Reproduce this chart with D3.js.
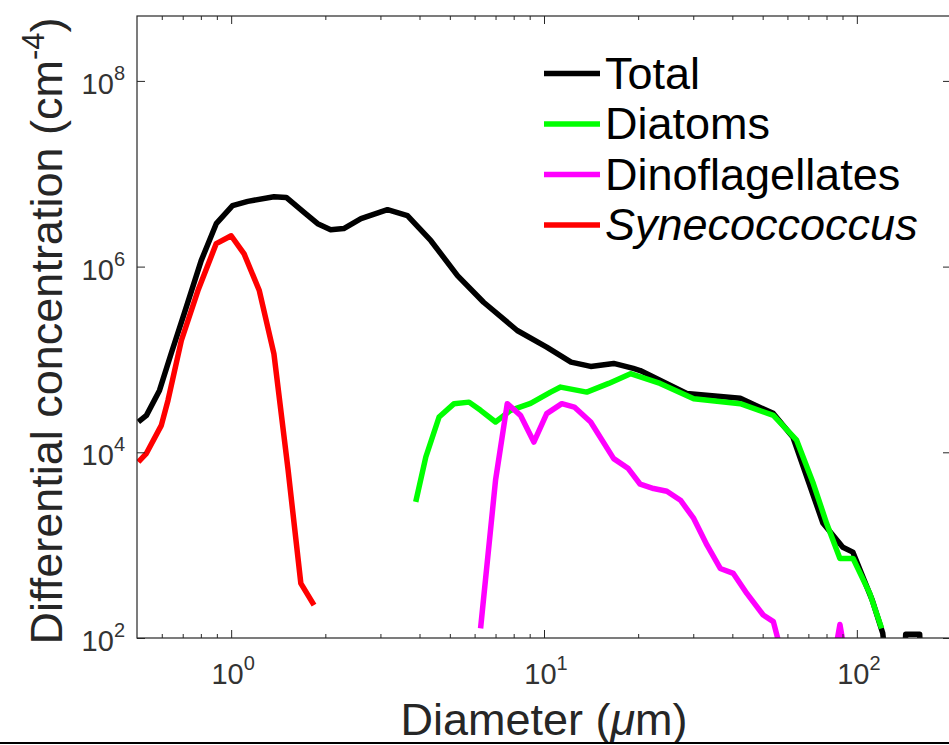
<!DOCTYPE html>
<html>
<head>
<meta charset="utf-8">
<script src="https://cdn.jsdelivr.net/npm/d3@7"></script>
<style>
  body { margin: 0; background: #fff; }
  svg { display: block; font-family: 'Liberation Sans', Arial, sans-serif; }
</style>
</head>
<body>
<script>
// diameters (um) and differential concentrations (cm^-4)
const totalD = [0.505, 0.536, 0.59, 0.643, 0.708, 0.802, 0.896, 1.01, 1.13, 1.37, 1.5, 1.71, 1.89, 2.08, 2.29, 2.6, 3.16, 3.66, 4.35, 5.29, 6.41, 8.21, 10.2, 12.2, 14.1, 16.7, 19.3, 20.3, 28.6, 42.4, 54, 62.5, 77.9, 90.2, 97.1, 112, 121, 128, 140, 143.3, 158.8, 162, 175]
const totalC = [2.12e4, 2.5e4, 4.64e4, 1.16e5, 3.13e5, 1.16e6, 2.9e6, 4.53e6, 5.04e6, 5.66e6, 5.56e6, 3.84e6, 2.9e6, 2.5e6, 2.57e6, 3.28e6, 4.1e6, 3.53e6, 1.9e6, 8.0e5, 4.13e5, 2.05e5, 1.36e5, 9.35e4, 8.41e4, 9.06e4, 8.0e4, 7.6e4, 4.31e4, 3.81e4, 2.63e4, 1.45e4, 1.73e3, 951, 841, 256, 113, 20, 20, 110, 110, 20, 20]

const diatomD = [3.89, 4.19, 4.62, 5.16, 5.76, 6.27, 7.0, 7.82, 9.06, 10.5, 11.3, 13.7, 16.1, 18.9, 23.5, 30.1, 42.4, 54.1, 64.2, 72.6, 80.1, 88.3, 97.3, 110, 120]
const diatomC = [2.92e3, 8.9e3, 2.4e4, 3.34e4, 3.47e4, 2.83e4, 2.12e4, 2.83e4, 3.37e4, 4.45e4, 5.04e4, 4.45e4, 5.52e4, 7.02e4, 5.52e4, 3.78e4, 3.34e4, 2.5e4, 1.35e4, 4.61e3, 1.71e3, 719, 719, 302, 127]

const dinoD = [6.27, 7.0, 7.63, 8.41, 9.28, 10.2, 11.4, 12.5, 14.1, 16.7, 18.6, 20.3, 22.4, 24.7, 27.3, 30.1, 33.2, 36.6, 40.3, 44.5, 50.2, 54.1, 56.8, 84.5, 88.3, 92.2]
const dinoC = [127, 5.0e3, 3.34e4, 2.5e4, 1.29e4, 2.61e4, 3.34e4, 3.07e4, 2.12e4, 8.55e3, 6.68e3, 4.53e3, 4.07e3, 3.81e3, 3.05e3, 1.94e3, 1000, 561, 496, 302, 177, 150, 80, 60, 140, 60]

const synD = [0.505, 0.536, 0.598, 0.628, 0.693, 0.783, 0.896, 1.0, 1.1, 1.23, 1.37, 1.52, 1.67, 1.84]
const synC = [7.87e3, 9.75e3, 1.95e4, 3.62e4, 1.6e5, 5.52e5, 1.77e6, 2.15e6, 1.37e6, 5.52e5, 1.15e5, 6.5e3, 387, 226]

const seriesNames = ['Total', 'Diatoms', 'Dinoflagellates', 'Synecoccoccus']
const seriesColors = ['#000000', '#00ff00', '#ff00ff', '#ff0000']

const xMajor = [1, 10, 100]
const xMinor = [0.6, 0.7, 0.8, 0.9, 2, 3, 4, 5, 6, 7, 8, 9, 20, 30, 40, 50, 60, 70, 80, 90]
const xTickExp = ['0', '1', '2']
const yMajor = [1e2, 1e4, 1e6, 1e8]
const yTickExp = ['2', '4', '6', '8']

const w = 949
const h = 745
const plotLeft = 137
const plotRight = 951
const plotTop = 16
const plotBottom = 638
const ink = '#262626'

const svg = d3.select('body')
    .append('svg')
    .attr('width', w)
    .attr('height', h)

const xScale = d3.scaleLog().domain([0.5, 200]).range([plotLeft, plotRight])
const yScale = d3.scaleLog().domain([1e2, 5e8]).range([plotBottom, plotTop])

svg.append('clipPath')
    .attr('id', 'plot')
    .append('rect')
    .attr('x', plotLeft)
    .attr('y', plotTop)
    .attr('width', plotRight - plotLeft)
    .attr('height', plotBottom - plotTop)

// curves, drawn in legend order so later ones sit on top
const series = [
    totalD.map((d, i) => [d, totalC[i]]),
    diatomD.map((d, i) => [d, diatomC[i]]),
    dinoD.map((d, i) => [d, dinoC[i]]),
    synD.map((d, i) => [d, synC[i]])
]

const line = d3.line()
    .x(d => xScale(d[0]))
    .y(d => yScale(d[1]))

svg.append('g')
    .attr('clip-path', 'url(#plot)')
    .selectAll('path')
    .data(series)
    .enter()
    .append('path')
    .attr('d', line)
    .attr('fill', 'none')
    .attr('stroke', (d, i) => seriesColors[i])
    .attr('stroke-width', 5.5)
    .attr('stroke-linejoin', 'round')

// box and ticks (inward, on all four sides)
const axisStyle = g => {
    g.select('.domain').remove()
    g.selectAll('line').attr('stroke', ink)
    g.selectAll('text').remove()
}

svg.append('g').attr('transform', `translate(0,${plotBottom})`)
    .call(d3.axisBottom(xScale).tickValues(xMajor).tickSize(-8)).call(axisStyle)
svg.append('g').attr('transform', `translate(0,${plotBottom})`)
    .call(d3.axisBottom(xScale).tickValues(xMinor).tickSize(-4)).call(axisStyle)
svg.append('g').attr('transform', `translate(0,${plotTop})`)
    .call(d3.axisTop(xScale).tickValues(xMajor).tickSize(-8)).call(axisStyle)
svg.append('g').attr('transform', `translate(0,${plotTop})`)
    .call(d3.axisTop(xScale).tickValues(xMinor).tickSize(-4)).call(axisStyle)
svg.append('g').attr('transform', `translate(${plotLeft},0)`)
    .call(d3.axisLeft(yScale).tickValues(yMajor).tickSize(-8)).call(axisStyle)
svg.append('g').attr('transform', `translate(${plotRight},0)`)
    .call(d3.axisRight(yScale).tickValues(yMajor).tickSize(-8)).call(axisStyle)

svg.append('rect')
    .attr('x', plotLeft)
    .attr('y', plotTop)
    .attr('width', plotRight - plotLeft)
    .attr('height', plotBottom - plotTop)
    .attr('fill', 'none')
    .attr('stroke', ink)
    .attr('stroke-width', 1.2)

// tick labels 10^n
const xLab = svg.selectAll('.xlab')
    .data(xMajor)
    .enter()
    .append('text')
    .attr('class', 'xlab')
    .attr('x', d => xScale(d) + 2)
    .attr('y', plotBottom + 46)
    .attr('text-anchor', 'middle')
    .attr('fill', '#333')
    .style('font-size', '29px')
xLab.append('tspan').text('10')
xLab.append('tspan').attr('dy', -14).style('font-size', '20px').text((d, i) => xTickExp[i])

const yLab = svg.selectAll('.ylab')
    .data(yMajor)
    .enter()
    .append('text')
    .attr('class', 'ylab')
    .attr('x', plotLeft - 12)
    .attr('y', d => yScale(d) + 13)
    .attr('text-anchor', 'end')
    .attr('fill', '#333')
    .style('font-size', '29px')
yLab.append('tspan').text('10')
yLab.append('tspan').attr('dy', -14).style('font-size', '20px').text((d, i) => yTickExp[i])

// axis titles
const xTitle = svg.append('text')
    .attr('x', (plotLeft + plotRight) / 2)
    .attr('y', 735)
    .attr('text-anchor', 'middle')
    .attr('fill', ink)
    .style('font-size', '45px')
xTitle.append('tspan').text('Diameter (')
xTitle.append('tspan').style('font-style', 'italic').text('\u03bc')
xTitle.append('tspan').text('m)')

const yTitle = svg.append('text')
    .attr('transform', `translate(62,${(plotTop + plotBottom) / 2 + 4}) rotate(-90)`)
    .attr('text-anchor', 'middle')
    .attr('fill', ink)
    .style('font-size', '45px')
yTitle.append('tspan').text('Differential concentration (cm')
yTitle.append('tspan').attr('dy', -18).style('font-size', '31px').text('-4')
yTitle.append('tspan').attr('dy', 18).text(')')

// legend
const legend = svg.selectAll('.leg')
    .data(seriesNames)
    .enter()
    .append('g')
    .attr('class', 'leg')
    .attr('transform', (d, i) => `translate(544,${73.5 + i * 50.5})`)

legend.append('line')
    .attr('x1', 0)
    .attr('x2', 56)
    .attr('stroke', (d, i) => seriesColors[i])
    .attr('stroke-width', 5.5)

legend.append('text')
    .attr('x', 61)
    .attr('y', 15)
    .attr('fill', '#000')
    .style('font-size', '45px')
    .style('font-style', (d, i) => i === 3 ? 'italic' : 'normal')
    .text(d => d)

// border line along the bottom of the picture
svg.append('line')
    .attr('x1', 0)
    .attr('x2', w)
    .attr('y1', 743)
    .attr('y2', 743)
    .attr('stroke', '#000')
    .attr('stroke-width', 2)
</script>
</body>
</html>
